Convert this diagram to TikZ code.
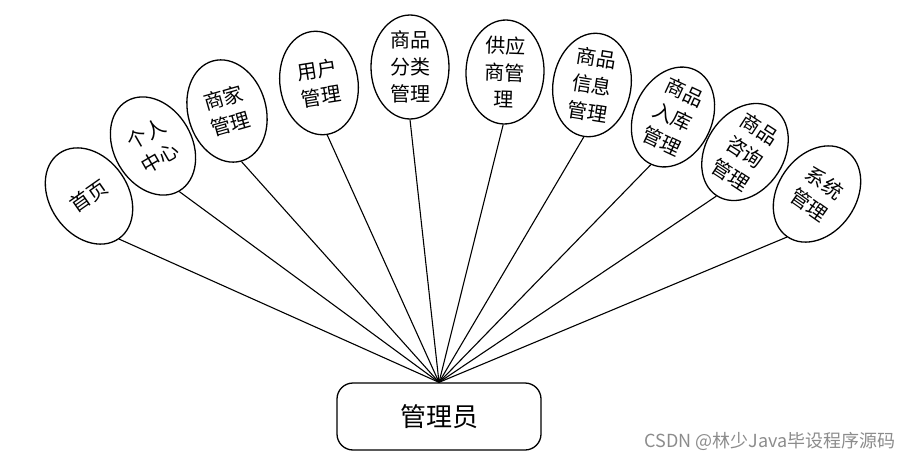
\documentclass[tikz,border=0pt]{standalone}
\usepackage{fontspec}
\newfontfamily\cjk{Noto Sans CJK SC}
\usetikzlibrary{shapes.geometric}

\begin{document}
\begin{tikzpicture}[x=1pt,y=-1pt,
  every node/.style={font=\cjk},
  fn/.style={draw,ellipse,line width=1.3pt,minimum width=78pt,minimum height=104pt,inner sep=0pt,
    align=center,font=\cjk\fontsize{20}{27}\selectfont},
  link/.style={line width=1.1pt}]
\useasboundingbox (0,0) rectangle (919,463);
% role box
\node[draw,rounded corners=16pt,line width=1.3pt,minimum width=204pt,minimum height=67pt,
  font=\cjk\fontsize{26}{30}\selectfont] (admin) at (439,416.5) {管理员};
% modules
\node[fn,rotate=35] (sy) at (89,196) {首页};
\node[fn,rotate=30] (grzx) at (153,146) {个人\\中心};
\node[fn,rotate=16] (sjgl) at (227,111) {商家\\管理};
\node[fn,rotate=9] (yhgl) at (319,83) {用户\\管理};
\node[fn] (flgl) at (410,67) {商品\\分类\\管理};
\node[fn,rotate=-2] (gysgl) at (505,72) {供应\\商管\\理};
\node[fn,rotate=-9] (xxgl) at (592,85) {商品\\信息\\管理};
\node[fn,rotate=-25] (rkgl) at (673,117) {商品\\入库\\管理};
\node[fn,rotate=-33] (zxgl) at (745,152) {商品\\咨询\\管理};
\node[fn,rotate=-35] (xtgl) at (817,194) {系统\\管理};
% links
\foreach \m in {sy,grzx,sjgl,yhgl,flgl,gysgl,xxgl,rkgl,zxgl,xtgl}
  \draw[link] (\m.south) -- (admin.north);
\node[text=black!45,font=\cjk\fontsize{18}{20}\selectfont] (wm) at (770,441) {CSDN @林少Java毕设程序源码};
\end{tikzpicture}
\end{document}
